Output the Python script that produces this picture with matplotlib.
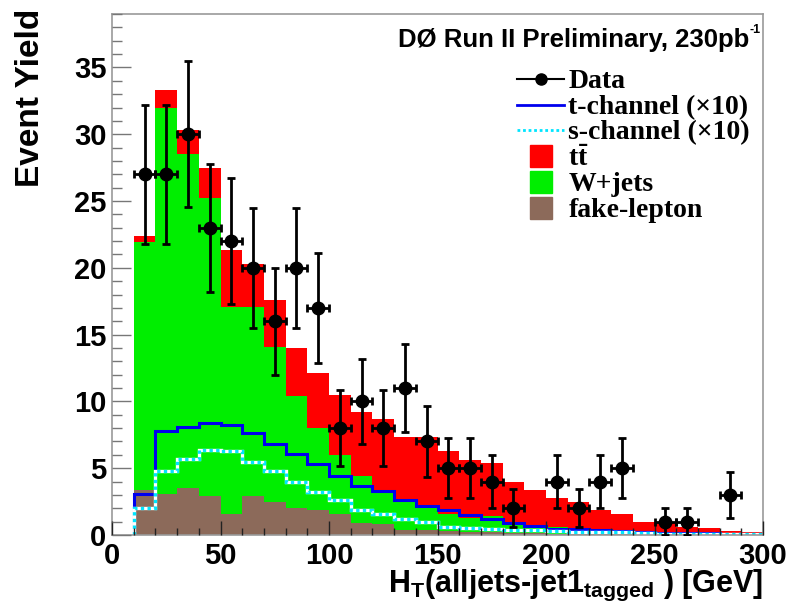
import numpy as np
import matplotlib
matplotlib.use("Agg")
import matplotlib.pyplot as plt
from matplotlib.lines import Line2D
from matplotlib.ticker import MultipleLocator

# Binning: 10 GeV bins from 10 to 300 GeV
bin_edges = np.arange(10, 301, 10)
bin_centers = bin_edges[:-1] + 5

# Background expectations per bin
fake_lepton = [3.4, 3.1, 3.5, 2.9, 1.6, 2.9, 2.5, 2.0, 1.9, 1.6, 0.9, 0.8, 0.4, 0.35,
               0.3, 0.25, 0.2, 0.15, 0.12, 0.1, 0.1, 0.08, 0.06, 0.05, 0.04, 0.03,
               0.03, 0.02, 0.02]
w_jets = [18.5, 28.9, 25.0, 22.3, 15.5, 14.2, 11.6, 8.4, 6.1, 4.4, 3.5, 2.6, 2.1, 1.75,
          1.3, 1.05, 1.2, 0.75, 0.58, 0.5, 0.4, 0.32, 0.24, 0.2, 0.16, 0.12, 0.09,
          0.08, 0.06]
ttbar = [0.5, 1.3, 1.8, 2.3, 4.2, 3.2, 3.5, 3.6, 4.1, 4.5, 4.8, 5.3, 4.8, 5.2,
         4.7, 4.3, 4.0, 3.1, 2.7, 2.2, 2.0, 1.5, 1.3, 0.7, 0.7, 0.45, 0.38, 0.2, 0.17]

# Single-top signals, scaled by 10
t_channel_x10 = [3.1, 7.8, 8.1, 8.4, 8.2, 7.6, 6.8, 6.1, 5.3, 4.4, 3.7, 3.3, 2.6, 2.2,
                 1.9, 1.5, 1.2, 0.9, 0.7, 0.45, 0.45, 0.35, 0.3, 0.2, 0.15, 0.15,
                 0.12, 0.1, 0.1]
s_channel_x10 = [2.0, 4.8, 5.7, 6.4, 6.3, 5.5, 4.8, 4.0, 3.2, 2.6, 1.9, 1.6, 1.2, 1.0,
                 0.6, 0.5, 0.45, 0.4, 0.35, 0.3, 0.25, 0.25, 0.2, 0.15, 0.1, 0.1,
                 0.08, 0.05, 0.05]

# Observed events per bin
data_counts = [27, 27, 30, 23, 22, 20, 16, 20, 17, 8, 10, 8, 11, 7, 5, 5, 4, 2, 0,
               4, 2, 4, 5, 0, 1, 1, 0, 3, 0]

SANS = "Liberation Sans"
SERIF = "Liberation Serif"
RED, GREEN, BROWN = "#ff0000", "#00ee00", "#8c6a5a"
BLUE, CYAN = "#0000ee", "#00e5ff"

fig = plt.figure(figsize=(7.9, 6.08), dpi=100)
ax = fig.add_axes([112 / 790, 1 - 535 / 608, (763 - 112) / 790, (535 - 14) / 608])

fake = np.array(fake_lepton)
wj = fake + np.array(w_jets)
tot = wj + np.array(ttbar)

ax.stairs(tot, bin_edges, fill=True, color=RED, lw=0, zorder=1)
ax.stairs(wj, bin_edges, fill=True, color=GREEN, lw=0, zorder=1.1)
ax.stairs(fake, bin_edges, fill=True, color=BROWN, lw=0, zorder=1.2)

ax.stairs(t_channel_x10, bin_edges, color=BLUE, lw=2.2, zorder=2)
ax.stairs(s_channel_x10, bin_edges, color="white", lw=2.4, zorder=2.1)
ax.stairs(s_channel_x10, bin_edges, color=CYAN, lw=2.4, ls=(0, (1.0, 1.0)), zorder=2.2)

dc = np.array(data_counts, dtype=float)
mask = dc > 0
ax.errorbar(bin_centers[mask], dc[mask], yerr=np.sqrt(dc[mask]), xerr=5,
            fmt="o", color="black", ms=9, elinewidth=2.0, capsize=2.8,
            capthick=2.0, zorder=4)

ax.set_xlim(0, 300)
ax.set_ylim(0, 39)
ax.xaxis.set_major_locator(MultipleLocator(50))
ax.xaxis.set_minor_locator(MultipleLocator(10))
ax.yaxis.set_major_locator(MultipleLocator(5))
ax.yaxis.set_minor_locator(MultipleLocator(1))
ax.set_axisbelow(False)

ax.tick_params(axis="y", which="major", direction="in", length=14, width=1.0,
               color="#777777", pad=4)
ax.tick_params(axis="y", which="minor", direction="in", length=7, width=1.0,
               color="#777777")
ax.tick_params(axis="x", which="major", direction="in", length=10, width=1.0,
               color="#222222", pad=5)
ax.tick_params(axis="x", which="minor", direction="in", length=5, width=1.0,
               color="#222222")
ax.tick_params(top=False, right=False, which="both")
for lab in ax.get_xticklabels() + ax.get_yticklabels():
    lab.set_fontfamily(SANS)
    lab.set_fontweight("bold")
    lab.set_fontsize(21)
for sp in ax.spines.values():
    sp.set_color("#999999")
    sp.set_linewidth(1.2)

fig.text(763 / 790, 1 - 585 / 608,
         r"H$_\mathregular{T}$(alljets-jet1$_\mathregular{tagged}$ ) [GeV]",
         ha="right", va="center", fontsize=22, fontweight="bold", family=SANS)
fig.text(31 / 790, 1 - 9 / 608, "Event Yield", rotation=90, ha="center", va="top",
         fontsize=24, fontweight="bold", family=SANS)

fig.text(749 / 790, 1 - 40 / 608, "DØ Run II Preliminary, 230pb",
         ha="right", va="center", fontsize=18.5, fontweight="bold", family=SANS)
fig.text(750 / 790, 1 - 30 / 608, "-1", ha="left", va="center",
         fontsize=9, fontweight="bold", family=SANS)

handles = [
    Line2D([], [], color="black", marker="o", ms=8, lw=1.5),
    Line2D([], [], color=BLUE, lw=2),
    Line2D([], [], color=CYAN, lw=2, ls=(0, (1.0, 1.0))),
    Line2D([], [], color=RED, marker="s", ms=16, ls="none"),
    Line2D([], [], color=GREEN, marker="s", ms=16, ls="none"),
    Line2D([], [], color=BROWN, marker="s", ms=16, ls="none"),
]
labels = ["Data", "t-channel (\u00d710)", "s-channel (\u00d710)", r"t$\bar{\mathregular{t}}$",
          "W+jets", "fake-lepton"]
leg = ax.legend(handles, labels, loc="upper left", bbox_to_anchor=(0.605, 0.915),
                frameon=False, prop={"family": SERIF, "weight": "bold", "size": 20},
                handlelength=1.7, handleheight=0.6, handletextpad=0.15,
                labelspacing=0.02, borderaxespad=0)
leg.set_zorder(5)

fig.savefig("out.png", dpi=100)
